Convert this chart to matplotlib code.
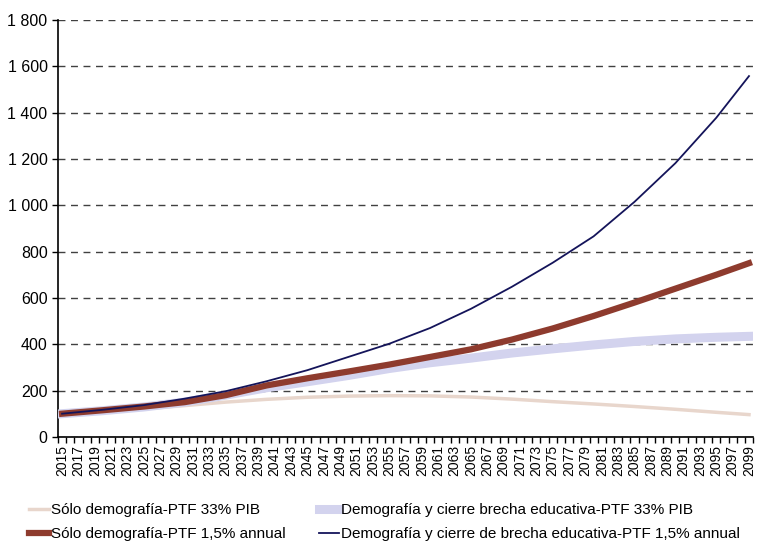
import numpy as np
import matplotlib.pyplot as plt
from matplotlib.ticker import FuncFormatter, MultipleLocator

plt.rcParams['font.family'] = ['Liberation Sans', 'DejaVu Sans']

# values (index, 2015 = 100)
years = [2015, 2020, 2025, 2030, 2035, 2040, 2045, 2050, 2055,
         2060, 2065, 2070, 2075, 2080, 2085, 2090, 2095, 2099]

solo_demo_33 = [100, 110, 121, 135, 150, 162, 171, 176, 178,
                177, 172, 163, 152, 142, 131, 119, 106, 96]
demo_brecha_33 = [100, 113, 129, 150, 180, 212, 238, 265, 295,
                  320, 340, 362, 380, 397, 412, 423, 430, 434]
solo_demo_15 = [100, 115, 131, 150, 180, 222, 253, 282, 312,
                345, 378, 420, 468, 522, 580, 640, 700, 750]
demo_brecha_15 = [100, 117, 137, 165, 197, 240, 288, 345, 402,
                  470, 553, 648, 752, 866, 1015, 1182, 1378, 1558]

labels = ['Sólo demografía-PTF 33% PIB',
          'Sólo demografía-PTF 1,5% annual',
          'Demografía y cierre brecha educativa-PTF 33% PIB',
          'Demografía y cierre de brecha educativa-PTF 1,5% annual']

fig = plt.figure(figsize=(7.58, 5.42), dpi=100)
ax = fig.add_axes([0.0765, 0.194, 0.917, 0.769])

l1, = ax.plot(years, solo_demo_33, color='#e8d6cc', lw=2.5, zorder=2)
l3, = ax.plot(years, demo_brecha_33, color='#d3d3ee', lw=6.5, zorder=3)
l2, = ax.plot(years, solo_demo_15, color='#8e3b2e', lw=4.5, zorder=4)
l4, = ax.plot(years, demo_brecha_15, color='#14145a', lw=1.3, zorder=5)

ax.set_ylim(0, 1800)
ax.set_xlim(2014.5, 2099.5)
ax.yaxis.set_major_locator(MultipleLocator(200))
ax.yaxis.set_major_formatter(FuncFormatter(lambda v, p: f'{int(v):,}'.replace(',', ' ')))
ax.grid(axis='y', linestyle=(0, (5, 4)), color='#404040', lw=1.0)
ax.set_axisbelow(True)

xt = list(range(2015, 2100, 2))
ax.set_xticks(xt)
ax.set_xticklabels([str(y) for y in xt], rotation=90, fontsize=10)
ax.set_xticks(np.arange(2014.5, 2100, 1), minor=True)
ax.tick_params(axis='x', which='major', length=0, pad=6)
ax.tick_params(axis='x', which='minor', length=4, direction='out', width=1)
ax.tick_params(axis='y', labelsize=11.5, length=4, width=1)

for s in ['top', 'right']:
    ax.spines[s].set_visible(False)
for s in ['left', 'bottom']:
    ax.spines[s].set_color('black')
    ax.spines[s].set_linewidth(1.2)

fig.legend([l1, l2, l3, l4], labels, ncol=2, loc='lower left',
           bbox_to_anchor=(0.02, -0.024), frameon=False, fontsize=11,
           handlelength=1.3, handletextpad=0.12, columnspacing=2.2,
           labelspacing=0.65)

fig.savefig('out.png', dpi=100)
